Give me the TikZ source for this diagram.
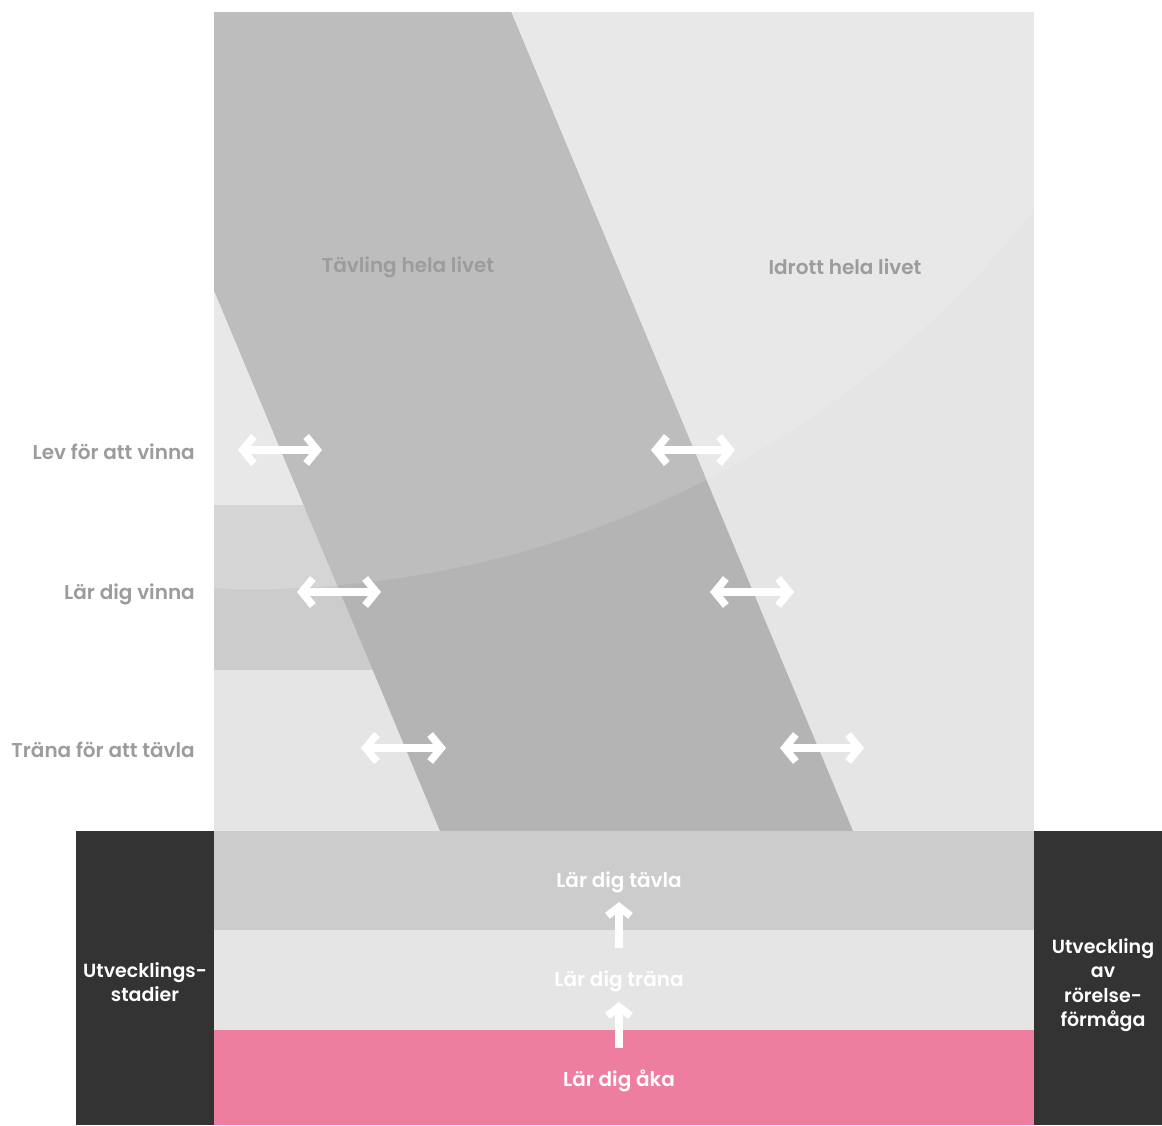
\documentclass[tikz,border=0pt]{standalone}
\usepackage{fontspec}
\setmainfont{Poppins}[BoldFont={Poppins SemiBold}]
\usetikzlibrary{arrows.meta,positioning}
\definecolor{panellow}{HTML}{E5E5E5}
\definecolor{paneltop}{HTML}{E8E8E8}
\definecolor{stripup}{HTML}{D5D5D5}
\definecolor{stripdown}{HTML}{CCCCCC}
\definecolor{bandup}{HTML}{BDBDBD}
\definecolor{banddown}{HTML}{B4B4B4}
\definecolor{labgray}{HTML}{9C9C9C}
\definecolor{darkblock}{HTML}{333333}
\definecolor{stagepink}{HTML}{EE7EA0}

\begin{document}
\begin{tikzpicture}[
  x=1pt, y=-1pt,
  txt/.style={font=\fontsize{20}{24.5}\selectfont\bfseries, inner sep=0pt},
  sidelbl/.style={txt, text=labgray, anchor=east},
  headlbl/.style={txt, text=labgray},
  steplbl/.style={txt, text=white},
  blocklbl/.style={txt, font=\fontsize{19}{24.5}\selectfont\bfseries, text=white, align=center},
  dblarr/.style={{Straight Barb[length=11pt,width=27pt,line width=7.5pt]}-{Straight Barb[length=11pt,width=27pt,line width=7.5pt]},
                 line width=8pt, draw=white},
  uparr/.style={-{Straight Barb[length=9pt,width=23pt,line width=7.5pt]}, line width=8pt, draw=white}
]
\useasboundingbox (0,0) rectangle (1162,1125);

% upper panel with the arc
\fill[panellow] (214,12) rectangle (1034,831);
\fill[stripdown] (214,505) rectangle (460,670);
\begin{scope}
  \clip (252.6,-406.7) circle[radius=995.4pt];
  \fill[paneltop] (214,12) rectangle (1034,831);
  \fill[stripup] (214,505) rectangle (460,670);
\end{scope}
\fill[banddown] (214,12) -- (511,12) -- (853,831) -- (440,831) -- (214,290) -- cycle;
\begin{scope}
  \clip (252.6,-406.7) circle[radius=995.4pt];
  \fill[bandup] (214,12) -- (511,12) -- (853,831) -- (440,831) -- (214,290) -- cycle;
\end{scope}

\node[headlbl] (comp) at (408,267) {Tävling hela livet};
\node[headlbl] (sport) at (845,267) {Idrott hela livet};

\node[sidelbl] (live) at (195,452) {Lev för att vinna};
\node[sidelbl] (win)  at (195,594) {Lär dig vinna};
\node[sidelbl] (train) at (195,750) {Träna för att tävla};

% double arrows on the band edges
\coordinate (l1a) at (238,450); \coordinate (l1b) at (322,450);
\coordinate (r1a) at (651,450); \coordinate (r1b) at (735,450);
\coordinate (l2a) at (297,592); \coordinate (l2b) at (381,592);
\coordinate (r2a) at (710,592); \coordinate (r2b) at (794,592);
\coordinate (l3a) at (361,748); \coordinate (l3b) at (446,748);
\coordinate (r3a) at (780,748); \coordinate (r3b) at (864,748);
\draw[dblarr] (l1a) -- (l1b);
\draw[dblarr] (r1a) -- (r1b);
\draw[dblarr] (l2a) -- (l2b);
\draw[dblarr] (r2a) -- (r2b);
\draw[dblarr] (l3a) -- (l3b);
\draw[dblarr] (r3a) -- (r3b);

% stages
\fill[stripdown] (214,831) rectangle (1034,930);
\fill[panellow]  (214,930) rectangle (1034,1030);
\fill[stagepink] (214,1030) rectangle (1034,1125);
\fill[darkblock] (76,831) rectangle (214,1125);
\fill[darkblock] (1034,831) rectangle (1162,1125);

\node[steplbl] (compete) at (619,882) {Lär dig tävla};
\node[steplbl] (practise) at (619,981) {Lär dig träna};
\node[steplbl] (skate) at (619,1081) {Lär dig åka};

\coordinate (u1a) at (619,948); \coordinate (u1b) at (619,902);
\coordinate (u2a) at (619,1048); \coordinate (u2b) at (619,1002);
\draw[uparr] (u1a) -- (u1b);
\draw[uparr] (u2a) -- (u2b);

\node[blocklbl] (stages) at (145,982) {Utvecklings-\\stadier};
\node[blocklbl] (motor) at (1103,985) {Utveckling\\av\\rörelse-\\förmåga};
\end{tikzpicture}
\end{document}
